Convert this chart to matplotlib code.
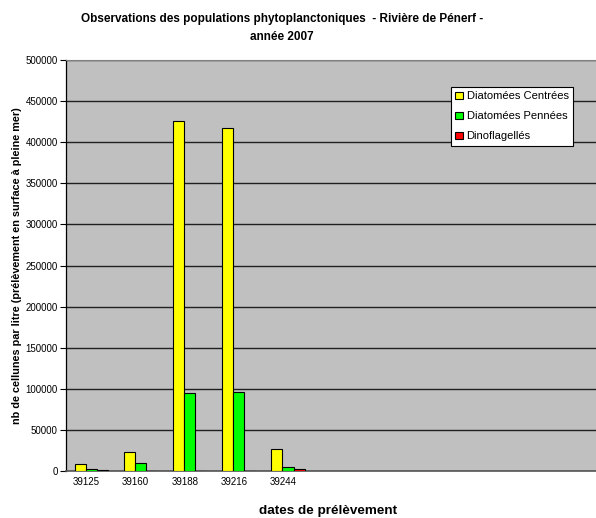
import numpy as np
import matplotlib
matplotlib.use("Agg")
import matplotlib.pyplot as plt
import matplotlib.transforms as mtransforms

plt.rcParams['font.family'] = ['Liberation Sans', 'DejaVu Sans']

# données
dates = ["39125", "39160", "39188", "39216", "39244"]
centrees = [9000, 23600, 426000, 417000, 26800]
pennees = [3000, 10200, 95000, 96000, 4500]
dinoflag = [1200, 0, 0, 0, 2900]

series = ["Diatomées Centrées", "Diatomées Pennées", "Dinoflagellés"]
couleurs = ["#FFFF00", "#00FF00", "#FF0000"]

fig = plt.figure(figsize=(5.96, 5.18), dpi=100)
ax = fig.add_axes([66 / 596, 1 - 471 / 518, 530 / 596, 411 / 518])
ax.set_facecolor("#C0C0C0")

x = np.arange(len(dates))
w = 0.225
for i, (vals, lab, c) in enumerate(zip([centrees, pennees, dinoflag], series, couleurs)):
    ax.bar(x + (i - 1) * w, vals, width=w, color=c, edgecolor="black",
           linewidth=0.8, label=lab, zorder=3)

ax.set_ylim(0, 500000)
ax.set_xlim(-0.52, 10.27)
ax.set_yticks(np.arange(0, 500001, 50000))
ax.yaxis.grid(True, color="#202020", linewidth=1.0, zorder=1)
ax.set_axisbelow(True)

ax.set_xticks(x)
ax.set_xticklabels(dates)
ax.tick_params(axis="x", length=0, labelsize=7, pad=4)
ax.tick_params(axis="y", length=4, width=0.8, labelsize=7, pad=2, direction="out")
offset = mtransforms.ScaledTranslation(-5 / 100, 0, fig.dpi_scale_trans)
for t in ax.get_xticklabels():
    t.set_transform(t.get_transform() + offset)

ax.spines["left"].set_color("black")
ax.spines["left"].set_linewidth(0.9)
ax.spines["bottom"].set_color("#555555")
ax.spines["bottom"].set_linewidth(1.2)
ax.spines["top"].set_color("#808080")
ax.spines["right"].set_visible(False)

fig.text(282 / 596, 1 - 19 / 518,
         "Observations des populations phytoplanctoniques  - Rivière de Pénerf -",
         ha="center", va="center", fontsize=8.5, fontweight="bold")
fig.text(282 / 596, 1 - 37 / 518, "année 2007",
         ha="center", va="center", fontsize=8.5, fontweight="bold")
fig.text(328 / 596, 1 - 511 / 518, "dates de prélèvement",
         ha="center", va="center", fontsize=9.7, fontweight="bold")
fig.text(17 / 596, 1 - 266 / 518,
         "nb de cellunes par litre (prélèvement en surface à pleine mer)",
         ha="center", va="center", rotation=90, fontsize=7.8, fontweight="bold")

leg = ax.legend(loc="upper left", bbox_to_anchor=((451 - 66) / 530, (471 - 87) / 411),
                fontsize=8, frameon=True, fancybox=False, edgecolor="black",
                framealpha=1, borderpad=0.4, labelspacing=0.9,
                handlelength=0.7, handleheight=0.7, handletextpad=0.3,
                borderaxespad=0)
leg.get_frame().set_linewidth(0.8)

fig.savefig("out.png", dpi=100)
